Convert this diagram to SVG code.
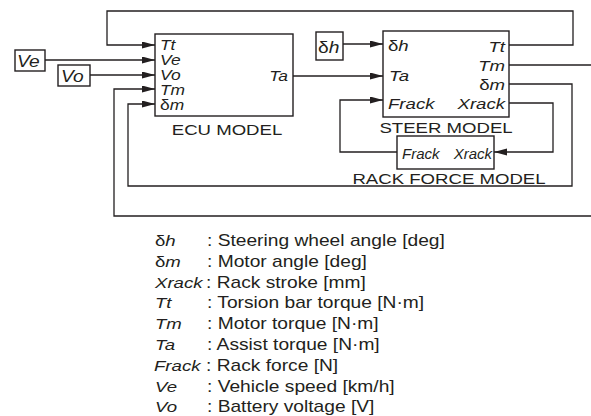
<svg xmlns="http://www.w3.org/2000/svg" width="591" height="416" viewBox="0 0 591 416">
<defs>
<style>
.t{font-family:"Liberation Sans",Arial,sans-serif;fill:#231f20}
.i{font-style:italic}
.n{font-style:normal}
.s14{font-size:14.5px}
.s15{font-size:15.5px}
.s16{font-size:16px}
.r15{font-size:15px}
.box{fill:#fff;stroke:#231f20;stroke-width:1.4}
.ln{fill:none;stroke:#231f20;stroke-width:1.3}
.end{text-anchor:end}
.mid{text-anchor:middle}
</style>
<marker id="arr" markerUnits="userSpaceOnUse" markerWidth="13" markerHeight="8" refX="13" refY="3.5" orient="auto">
<path d="M0,0 L13,3.5 L0,7 z" fill="#231f20"/>
</marker>
</defs>
<rect width="591" height="416" fill="#fff"/>

<g id="connectors">
<path class="ln" d="M509,45 H573 V11 H107 V45 H155" marker-end="url(#arr)"/>
<path class="ln" d="M45,60 H155" marker-end="url(#arr)"/>
<path class="ln" d="M90,75 H155" marker-end="url(#arr)"/>
<path class="ln" d="M509,65 H591"/>
<path class="ln" d="M591,216 H114 V89 H155" marker-end="url(#arr)"/>
<path class="ln" d="M509,84 H572 V186 H128 V104 H155" marker-end="url(#arr)"/>
<path class="ln" d="M293,76 H383" marker-end="url(#arr)"/>
<path class="ln" d="M343,44 H383" marker-end="url(#arr)"/>
<path class="ln" d="M509,103 H553 V152 H494" marker-end="url(#arr)"/>
<path class="ln" d="M397,152 H340 V100 H383" marker-end="url(#arr)"/>
</g>

<g id="ve-input">
<rect class="box" x="15" y="50" width="30" height="21"/>
<text class="t i s16" transform="translate(17,67) scale(1.2,1)">Ve</text>
</g>

<g id="vo-input">
<rect class="box" x="58" y="65" width="32" height="21"/>
<text class="t i s16" transform="translate(61,82) scale(1.2,1)">Vo</text>
</g>

<g id="dh-input">
<rect class="box" x="316" y="32" width="27" height="28"/>
<text class="t i s16" transform="translate(318,53) scale(1.2,1)"><tspan class="n">δ</tspan>h</text>
</g>

<g id="ecu-model">
<rect class="box" x="155" y="34" width="138" height="82"/>
<text class="t i s14" transform="translate(160,49.5) scale(1.2,1)">Tt</text>
<text class="t i s14" transform="translate(160,64.5) scale(1.2,1)">Ve</text>
<text class="t i s14" transform="translate(160,79.5) scale(1.2,1)">Vo</text>
<text class="t i s14" transform="translate(160,94.5) scale(1.2,1)">Tm</text>
<text class="t i s14" transform="translate(160,109.5) scale(1.2,1)"><tspan class="n">δ</tspan>m</text>
<text class="t i s14 end" transform="translate(288,81) scale(1.2,1)">Ta</text>
<text class="t s15 mid" transform="translate(227,135) scale(1.2,1)">ECU MODEL</text>
</g>

<g id="steer-model">
<rect class="box" x="383" y="31" width="126" height="86"/>
<text class="t i s15" transform="translate(388,51) scale(1.2,1)"><tspan class="n">δ</tspan>h</text>
<text class="t i s15" transform="translate(389,80.5) scale(1.2,1)">Ta</text>
<text class="t i s15" transform="translate(388,108.5) scale(1.2,1)">Frack</text>
<text class="t i s15 end" transform="translate(505,52) scale(1.2,1)">Tt</text>
<text class="t i s15 end" transform="translate(505,70.5) scale(1.2,1)">Tm</text>
<text class="t i s15 end" transform="translate(505,90) scale(1.2,1)"><tspan class="n">δ</tspan>m</text>
<text class="t i s15 end" transform="translate(505,108.5) scale(1.2,1)">Xrack</text>
<text class="t s15 mid" transform="translate(446,132.5) scale(1.2,1)">STEER MODEL</text>
</g>

<g id="rack-force-model">
<rect class="box" x="397" y="136" width="97" height="33"/>
<text class="t i r15" x="402" y="159">Frack</text>
<text class="t i r15 end" x="492" y="159">Xrack</text>
<text class="t s15 mid" transform="translate(449,183.5) scale(1.2,1)">RACK FORCE MODEL</text>
</g>

<g id="legend">
<text class="t i s15" transform="translate(155,246) scale(1.2,1)"><tspan class="n">δ</tspan>h</text>
<text class="t s16" transform="translate(207,246) scale(1.2,1)">: Steering wheel angle [deg]</text>
<text class="t i s15" transform="translate(155,266.8) scale(1.2,1)"><tspan class="n">δ</tspan>m</text>
<text class="t s16" transform="translate(207,266.8) scale(1.2,1)">: Motor angle [deg]</text>
<text class="t i s15" transform="translate(155,287.6) scale(1.2,1)">Xrack</text>
<text class="t s16" transform="translate(206,287.6) scale(1.2,1)">: Rack stroke [mm]</text>
<text class="t i s15" transform="translate(155,308.4) scale(1.2,1)">Tt</text>
<text class="t s16" transform="translate(207,308.4) scale(1.2,1)">: Torsion bar torque [N·m]</text>
<text class="t i s15" transform="translate(155,329.2) scale(1.2,1)">Tm</text>
<text class="t s16" transform="translate(207,329.2) scale(1.2,1)">: Motor torque [N·m]</text>
<text class="t i s15" transform="translate(155,350) scale(1.2,1)">Ta</text>
<text class="t s16" transform="translate(207,350) scale(1.2,1)">: Assist torque [N·m]</text>
<text class="t i s15" transform="translate(154,370.8) scale(1.2,1)">Frack</text>
<text class="t s16" transform="translate(206,370.8) scale(1.2,1)">: Rack force [N]</text>
<text class="t i s15" transform="translate(155,391.6) scale(1.2,1)">Ve</text>
<text class="t s16" transform="translate(207,391.6) scale(1.2,1)">: Vehicle speed [km/h]</text>
<text class="t i s15" transform="translate(155,412.4) scale(1.2,1)">Vo</text>
<text class="t s16" transform="translate(207,412.4) scale(1.2,1)">: Battery voltage [V]</text>
</g>
</svg>
